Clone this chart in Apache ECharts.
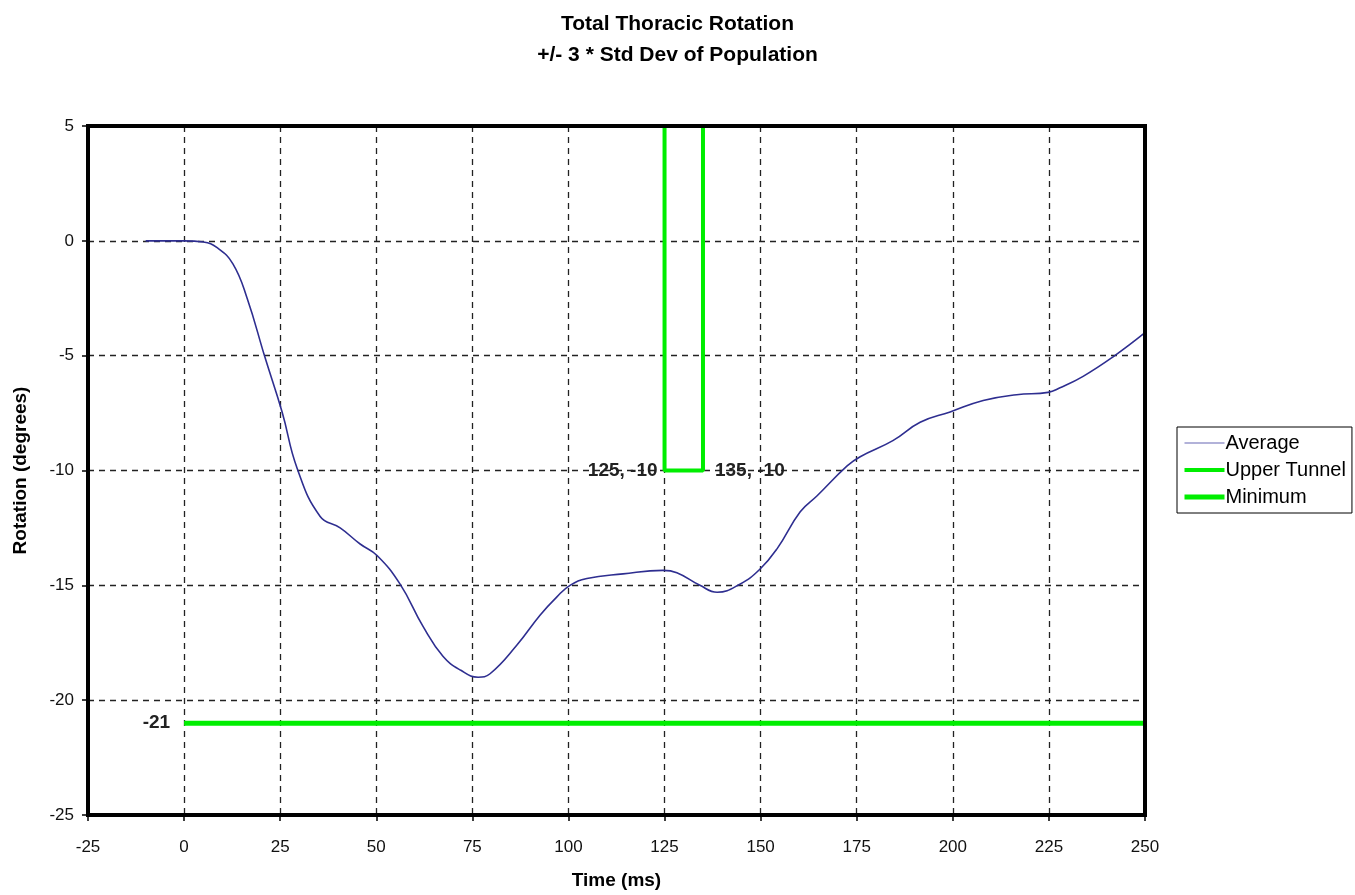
<!DOCTYPE html>
<html>
<head>
<meta charset="utf-8">
<script src="https://cdn.jsdelivr.net/npm/echarts@6/dist/echarts.min.js"></script>
<style>
  html, body { margin: 0; padding: 0; background: #fff; }
  #chart-container { width: 1355px; height: 895px; }
</style>
</head>
<body>
<div id="chart-container"></div>
<script>
// data
var avgTime = [-10, 0, 5, 8.6, 12.7, 16.4, 21, 25.5, 29.4, 35.4, 40.6, 45.8, 50.2, 56.2, 62.2, 67.4, 72, 76.5, 79.6, 86.6, 92.6, 97, 100.4, 104.8, 114.2, 124.6, 128.2, 134.2, 138.7, 144.6, 149.8, 154.3, 160.3, 164.7, 172.5, 175.9, 184.4, 191.5, 199.3, 207.9, 216.6, 224.8, 227.9, 233.9, 241.7, 250];
var avgRot = [0, 0, -0.05, -0.3, -1.0, -2.5, -5.05, -7.45, -9.9, -12.0, -12.5, -13.2, -13.7, -14.95, -16.8, -18.1, -18.7, -19.0, -18.85, -17.6, -16.3, -15.5, -15.0, -14.7, -14.5, -14.35, -14.45, -15.0, -15.3, -14.95, -14.3, -13.4, -11.8, -11.1, -9.8, -9.4, -8.7, -7.9, -7.45, -6.95, -6.7, -6.6, -6.4, -5.9, -5.05, -4.0];

var tunnelTime = [125, 125, 135, 135];
var tunnelRot = [5, -10, -10, 5];

var minTime = [0, 250];
var minRot = [-21, -21];

var dom = document.getElementById('chart-container');
var myChart = echarts.init(dom, null, { renderer: 'canvas' });

function zip(xs, ys) {
  return xs.map(function (x, i) { return [x, ys[i]]; });
}

// tunnel points, the two bottom corners get their coordinates as labels
var tunnelData = zip(tunnelTime, tunnelRot).map(function (p, i) {
  var item = { value: p };
  if (i === 1 || i === 2) {
    item.label = {
      show: true,
      position: i === 1 ? 'left' : 'right',
      distance: i === 1 ? 7 : 12,
      formatter: p[0] + ', ' + p[1]
    };
  }
  return item;
});

var minData = zip(minTime, minRot).map(function (p, i) {
  var item = { value: p };
  if (i === 0) {
    item.label = { show: true, position: 'left', distance: 14, formatter: String(p[1]) };
  }
  return item;
});

var labelFont = { fontFamily: 'Liberation Sans', fontSize: 17, color: '#111' };
var nameFont = { fontFamily: 'Liberation Sans', fontSize: 19, fontWeight: 'bold', color: '#000' };
var markFont = { fontFamily: 'Liberation Sans', fontSize: 19, fontWeight: 'bold', color: '#222' };
var gridDash = { show: true, lineStyle: { color: '#222', type: [6, 5], width: 1.3 } };

var option = {
  backgroundColor: '#fff',
  animation: false,
  title: {
    text: 'Total Thoracic Rotation\n+/- 3 * Std Dev of Population',
    left: 'center',
    top: 4,
    textStyle: {
      fontFamily: 'Liberation Sans',
      fontSize: 21,
      fontWeight: 'bold',
      color: '#000',
      lineHeight: 31
    }
  },
  legend: {
    orient: 'vertical',
    left: 1177,
    top: 427,
    itemWidth: 40,
    itemHeight: 14,
    itemGap: 7,
    padding: [6, 6, 6, 5],
    borderColor: '#000',
    borderWidth: 1,
    itemStyle: { opacity: 0 },
    textStyle: { fontFamily: 'Liberation Sans', fontSize: 20, color: '#000', padding: [0, 0, 0, -4] },
    data: [
      { name: 'Average', lineStyle: { color: '#9999cc', width: 1.5 } },
      { name: 'Upper Tunnel', lineStyle: { color: '#00ee00', width: 4 } },
      { name: 'Minimum', lineStyle: { color: '#00ee00', width: 5 } }
    ]
  },
  grid: {
    left: 88,
    right: 210,
    top: 126,
    bottom: 74,
    show: true,
    borderColor: '#000',
    borderWidth: 4,
    z: 10
  },
  xAxis: {
    type: 'value',
    min: -25,
    max: 250,
    interval: 25,
    name: 'Time (ms)',
    nameLocation: 'middle',
    nameGap: 56,
    nameTextStyle: nameFont,
    axisLine: { show: false, onZero: false },
    axisTick: { show: true, length: 6, lineStyle: { color: '#000', width: 1.5 } },
    axisLabel: Object.assign({ margin: 24 }, labelFont),
    splitLine: gridDash
  },
  yAxis: {
    type: 'value',
    min: -25,
    max: 5,
    interval: 5,
    name: 'Rotation (degrees)',
    nameLocation: 'middle',
    nameGap: 58,
    nameTextStyle: nameFont,
    axisLine: { show: false, onZero: false },
    axisTick: { show: true, length: 6, lineStyle: { color: '#000', width: 1.5 } },
    axisLabel: Object.assign({ margin: 14 }, labelFont),
    splitLine: gridDash
  },
  series: [
    {
      name: 'Average',
      type: 'line',
      data: zip(avgTime, avgRot),
      smooth: 0.45,
      symbol: 'none',
      color: '#9999cc',
      lineStyle: { color: '#2e2e90', width: 1.6 },
      z: 3
    },
    {
      name: 'Upper Tunnel',
      type: 'line',
      data: tunnelData,
      symbol: 'circle',
      symbolSize: 0,
      color: '#00ee00',
      lineStyle: { color: '#00ee00', width: 4 },
      label: markFont,
      z: 4
    },
    {
      name: 'Minimum',
      type: 'line',
      data: minData,
      symbol: 'circle',
      symbolSize: 0,
      color: '#00ee00',
      lineStyle: { color: '#00ee00', width: 5 },
      label: markFont,
      z: 4
    }
  ]
};

myChart.setOption(option);
window.addEventListener('resize', myChart.resize);
</script>
</body>
</html>
